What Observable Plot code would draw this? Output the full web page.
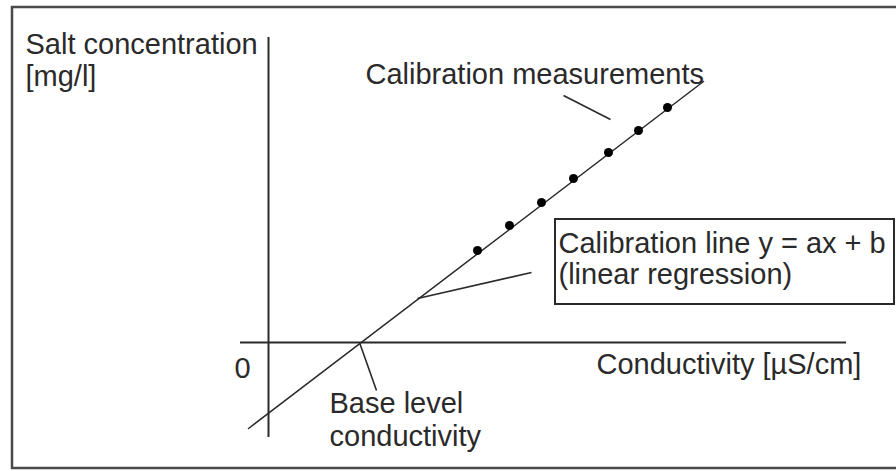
<!DOCTYPE html>
<html>
<head>
<meta charset="utf-8">
<script src="https://cdn.jsdelivr.net/npm/d3@7"></script>
<script src="https://cdn.jsdelivr.net/npm/@observablehq/plot@0.6"></script>
<style>
  html, body { margin: 0; padding: 0; background: #fff; }
  #chart svg { display: block; }
</style>
</head>
<body>
<div id="chart"></div>
<script>
// Schematic units: conductivity (x) and salt concentration (y), origin at axes crossing
const measX = [20.9, 24.1, 27.3, 30.5, 34.0, 37.0, 39.9];
const measY = [9.2, 11.7, 14.0, 16.4, 19.0, 21.2, 23.5];

// calibration (regression) line end points
const fitX = [-2.0, 43.5];
const fitY = [-8.6, 26.1];

// axes extents
const xAxisX = [-2.8, 57.8];
const yAxisY = [-9.5, 30.5];

// leader lines [x1, y1, x2, y2]
const leaderX1 = [29.5, 14.9, 9.1];
const leaderY1 = [24.7, 4.4, 0.0];
const leaderX2 = [34.2, 26.3, 10.8];
const leaderY2 = [22.3, 7.0, -4.8];

// labels (left-anchored)
const labelText = ["Salt concentration", "[mg/l]", "Calibration measurements",
  "Calibration line y = ax + b", "(linear regression)",
  "Conductivity [µS/cm]", "Base level", "conductivity"];
const labelX = [-24.3, -24.3, 9.7, 29.0, 29.0, 32.8, 6.1, 6.1];
const labelY = [28.9, 25.7, 25.9, 9.0, 5.9, -3.1, -7.0, -10.3];

// origin tick label
const zeroText = ["0"];
const zeroX = [-2.6];
const zeroY = [-3.5];

// annotation box and outer frame [x1, x2, y1, y2]
const boxExt = [28.7, 62.6, 3.8, 12.3];
const frameExt = [-25.6, 64.0, -12.6, 33.5];

const labels = labelText.map((t, i) => ({t, x: labelX[i], y: labelY[i]}));
const zeros = zeroText.map((t, i) => ({t, x: zeroX[i], y: zeroY[i]}));
const meas = measX.map((x, i) => ({x, y: measY[i]}));
const fit = fitX.map((x, i) => ({x, y: fitY[i]}));
const leaders = leaderX1.map((x1, i) => ({x1, y1: leaderY1[i], x2: leaderX2[i], y2: leaderY2[i]}));

const ink = "#2a2a2a";
const fs = 29;

const chart = Plot.plot({
  width: 896,
  height: 471,
  margin: 0,
  x: {domain: [-26.8, 62.8], axis: null},
  y: {domain: [-12.9, 34.2], axis: null},
  style: {fontFamily: "'Liberation Sans', Arial, sans-serif", background: "#fff"},
  marks: [
    Plot.rect([{x1: frameExt[0], x2: frameExt[1], y1: frameExt[2], y2: frameExt[3]}],
      {x1: "x1", x2: "x2", y1: "y1", y2: "y2", fill: "none", stroke: "#4a4a4a", strokeWidth: 2.5}),
    Plot.ruleY([0], {x1: xAxisX[0], x2: xAxisX[1], stroke: ink, strokeWidth: 2}),
    Plot.ruleX([0], {y1: yAxisY[0], y2: yAxisY[1], stroke: ink, strokeWidth: 2}),
    Plot.line(fit, {x: "x", y: "y", stroke: ink, strokeWidth: 1.5}),
    Plot.link(leaders, {x1: "x1", y1: "y1", x2: "x2", y2: "y2", stroke: ink, strokeWidth: 1.6}),
    Plot.dot(meas, {x: "x", y: "y", r: 4.5, fill: "#000", stroke: "none"}),
    Plot.rect([{x1: boxExt[0], x2: boxExt[1], y1: boxExt[2], y2: boxExt[3]}],
      {x1: "x1", x2: "x2", y1: "y1", y2: "y2", fill: "#fff", stroke: ink, strokeWidth: 2}),
    Plot.text(labels, {x: "x", y: "y", text: "t", textAnchor: "start", lineAnchor: "bottom",
      fontSize: fs, fill: ink}),
    Plot.text(zeros, {x: "x", y: "y", text: "t", textAnchor: "middle", lineAnchor: "bottom",
      fontSize: fs, fill: ink})
  ]
});
document.getElementById("chart").appendChild(chart);
</script>
</body>
</html>
